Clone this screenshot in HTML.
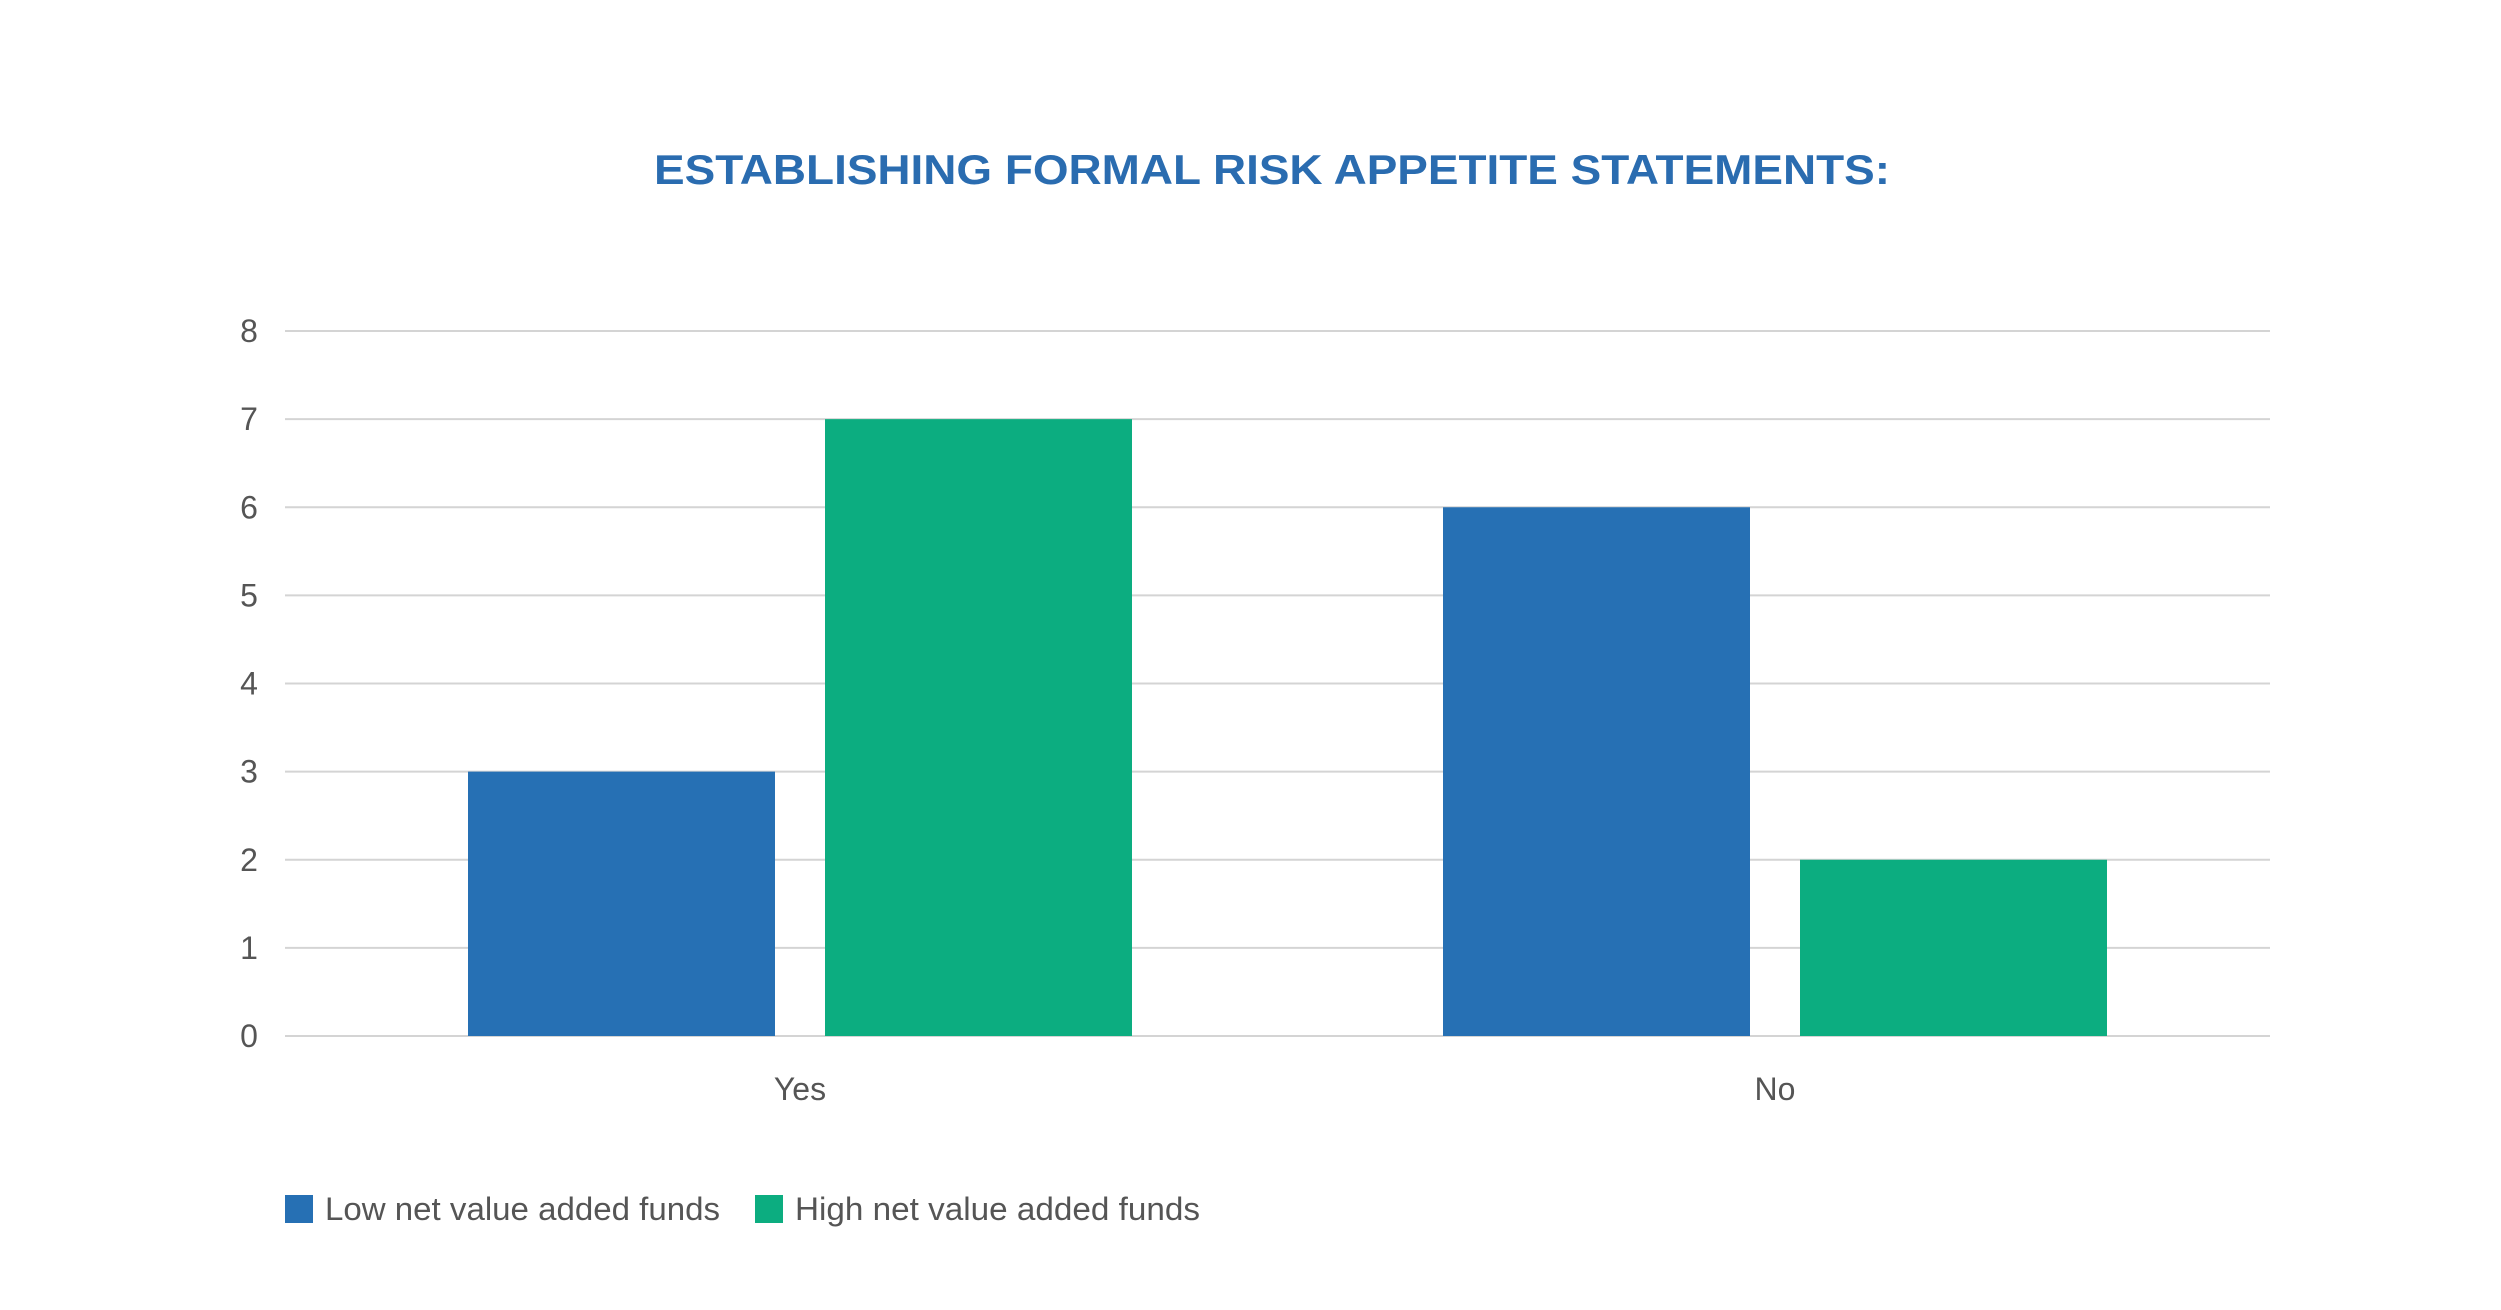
<!DOCTYPE html>
<html><head><meta charset="utf-8"><style>
html,body{margin:0;padding:0;background:#fff;}
svg{display:block;font-family:"Liberation Sans",sans-serif;}
</style></head><body>
<svg id="chart" width="2501" height="1310" viewBox="0 0 2501 1310" xmlns="http://www.w3.org/2000/svg">
<rect width="2501" height="1310" fill="#fff"/>
<text x="1272" y="184" text-anchor="middle" font-size="42" font-weight="bold" fill="#2a6cb0" textLength="1236" lengthAdjust="spacingAndGlyphs">ESTABLISHING FORMAL RISK APPETITE STATEMENTS:</text>
<g id="grid"></g><g id="bars"></g><g id="labels"></g>
<g>
<rect x="285" y="1195" width="28" height="28" fill="#2670b4"/>
<text x="325" y="1220" font-size="32" fill="#555" textLength="395" lengthAdjust="spacingAndGlyphs">Low net value added funds</text>
<rect x="755" y="1195" width="28" height="28" fill="#0cad80"/>
<text x="795" y="1220" font-size="32" fill="#555" textLength="405" lengthAdjust="spacingAndGlyphs">High net value added funds</text>
</g>
</svg>
<script>
const categories = ["Yes", "No"];
const lowValues = [3, 6];
const highValues = [7, 2];
const yTicks = [0, 1, 2, 3, 4, 5, 6, 7, 8];
const NS = "http://www.w3.org/2000/svg";
const y = v => 1036 - v * (705 / 8);
const xCenter = i => 800 + i * 975;
const barW = 307, gap = 50;
const grid = document.getElementById('grid');
const bars = document.getElementById('bars');
const labels = document.getElementById('labels');
yTicks.forEach(t => {
  const l = document.createElementNS(NS, 'line');
  
  
  l.setAttribute('x1', 285); l.setAttribute('x2', 2270);
  l.setAttribute('y1', y(t)); l.setAttribute('y2', y(t));
  l.setAttribute('stroke', '#d4d4d4'); l.setAttribute('stroke-width', 2);
  grid.appendChild(l);
  const tx = document.createElementNS(NS, 'text');
  
  
  tx.setAttribute('x', 249); tx.setAttribute('y', y(t) + 11);
  tx.setAttribute('text-anchor', 'middle'); tx.setAttribute('font-size', 32); tx.setAttribute('fill', '#555');
  tx.textContent = t;
  labels.appendChild(tx);
});
categories.forEach((c, i) => {
  const cx = xCenter(i);
  [[lowValues[i], '#2670b4', cx - gap / 2 - barW, 'low'], [highValues[i], '#0cad80', cx + gap / 2, 'high']].forEach(([v, col, x, s]) => {
    const r = document.createElementNS(NS, 'rect');
    
    
    r.setAttribute('x', x); r.setAttribute('width', barW);
    r.setAttribute('y', y(v)); r.setAttribute('height', y(0) - y(v));
    r.setAttribute('fill', col);
    bars.appendChild(r);
  });
  const tx = document.createElementNS(NS, 'text');
  
  
  tx.setAttribute('x', cx); tx.setAttribute('y', 1100);
  tx.setAttribute('text-anchor', 'middle'); tx.setAttribute('font-size', 32); tx.setAttribute('fill', '#555');
  tx.textContent = c;
  labels.appendChild(tx);
});
</script>
</body></html>
